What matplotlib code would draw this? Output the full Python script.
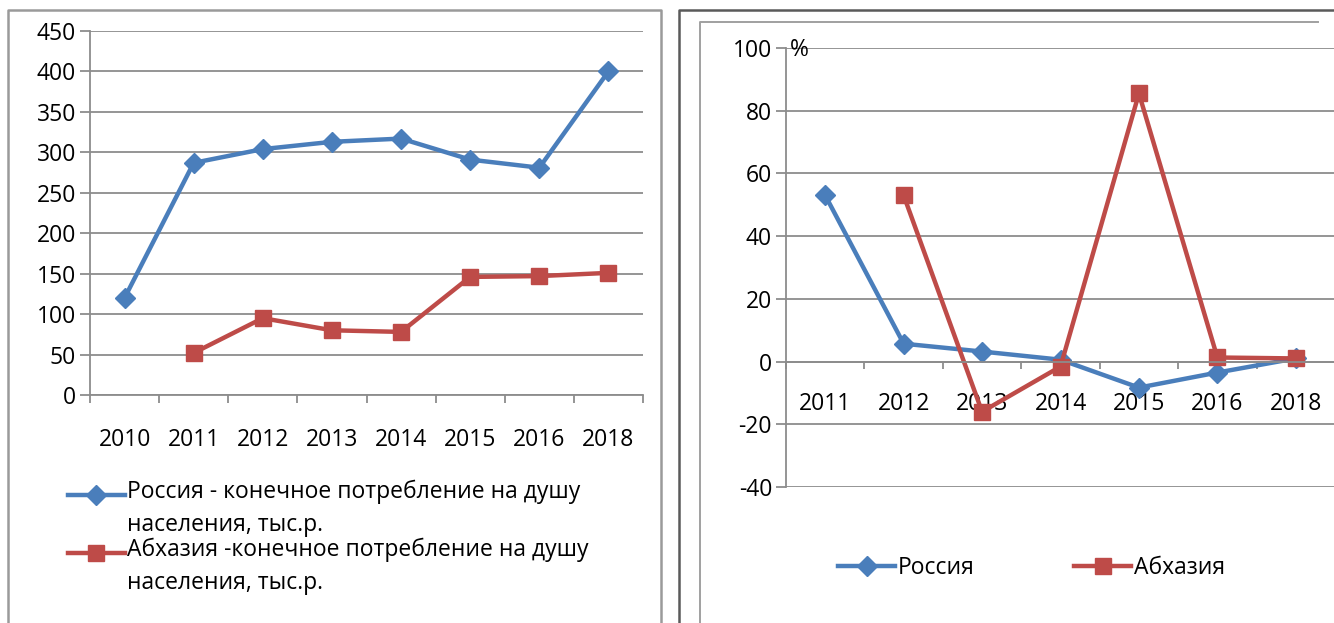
import numpy as np
import matplotlib
matplotlib.use('Agg')
import matplotlib.pyplot as plt
from matplotlib.lines import Line2D

plt.rcParams['font.family'] = ['Open Sans', 'DejaVu Sans']
plt.rcParams['axes.unicode_minus'] = False

# left chart: final consumption per capita, thousand roubles
YEARS_L = ['2010', '2011', '2012', '2013', '2014', '2015', '2016', '2018']
RU_L = [120, 287, 304, 313, 317, 291, 281, 400]
AB_L = [np.nan, 52, 95, 80, 78, 146, 147, 151]
NAMES_L = ['Россия - конечное потребление на душу\nнаселения, тыс.р.',
           'Абхазия -конечное потребление на душу\nнаселения, тыс.р.']

# right chart: growth, %
YEARS_R = ['2011', '2012', '2013', '2014', '2015', '2016', '2018']
RU_R = [53, 5.7, 3.2, 0.6, -8.3, -3.5, 1]
AB_R = [np.nan, 53, -16, -1.6, 85.5, 1.3, 1]
NAMES_R = ['Россия', 'Абхазия']

BLUE = '#4a7ebb'
RED = '#be4b48'
GRID = '#8c8c8c'
FS = 16.5
W, H = 1334, 623

fig = plt.figure(figsize=(W / 100, H / 100), dpi=100)


def fx(px):
    return px / W


def fy(py):
    return 1 - py / H


def frame(x0, y0, x1, color, lw=1.6, right=True):
    xs = [fx(x0), fx(x0), fx(x1)] + ([fx(x1)] if right else [])
    ys = [0, fy(y0), fy(y0)] + ([0] if right else [])
    fig.add_artist(Line2D(xs, ys, color=color, lw=lw))


# panel borders
frame(8, 10, 661, '#9a9a9a', lw=1.8)
frame(679, 10, 1334, '#5a5a5a', lw=1.8, right=False)
frame(700, 22, 1318, '#a0a0a0', lw=1.4, right=False)


def style_axes(ax, n, pad):
    for s in ['top', 'right']:
        ax.spines[s].set_visible(False)
    for s in ['left', 'bottom']:
        ax.spines[s].set_color(GRID)
        ax.spines[s].set_linewidth(1.3)
    ax.set_xlim(-0.5, n - 0.5)
    ax.set_xticks(np.arange(n))
    ax.set_xticks(np.arange(n + 1) - 0.5, minor=True)
    ax.tick_params(axis='x', which='major', length=0, pad=pad, labelsize=FS)
    ax.tick_params(axis='x', which='minor', length=6, color=GRID, width=1.3)
    ax.tick_params(axis='y', length=7, color=GRID, width=1.3, labelsize=FS, pad=3)
    ax.grid(axis='y', color=GRID, lw=1.3)
    ax.set_axisbelow(True)


# ---- left
axl = fig.add_axes([fx(90), fy(395), fx(643 - 90), (395 - 31) / H])
xl = np.arange(len(YEARS_L))
axl.plot(xl, RU_L, color=BLUE, lw=3.2, marker='D', ms=10, clip_on=False)
axl.plot(xl, AB_L, color=RED, lw=3.2, marker='s', ms=12, clip_on=False)
axl.set_ylim(0, 450)
axl.set_yticks(np.arange(0, 451, 50))
style_axes(axl, len(YEARS_L), 24)
axl.set_xticklabels(YEARS_L)

# legend of the left chart, handle aligned with the first text line
for i, (name, col, mk, ms) in enumerate(zip(NAMES_L, [BLUE, RED], ['D', 's'], [10, 12])):
    yy = 495 + i * 58
    fig.add_artist(Line2D([fx(68), fx(125)], [fy(yy), fy(yy)], color=col, lw=3.2))
    fig.add_artist(Line2D([fx(96)], [fy(yy)], color=col, marker=mk, ms=ms, lw=0))
    fig.text(fx(127), fy(yy - 15), name, fontsize=FS, va='top', ha='left',
             linespacing=1.5)

# ---- right
axr = fig.add_axes([fx(786), fy(487), fx(1335 - 786), (487 - 48) / H])
xr = np.arange(len(YEARS_R))
axr.plot(xr, RU_R, color=BLUE, lw=3.2, marker='D', ms=10, clip_on=False, label=NAMES_R[0])
axr.plot(xr, AB_R, color=RED, lw=3.2, marker='s', ms=12, clip_on=False, label=NAMES_R[1])
axr.set_ylim(-40, 100)
axr.set_yticks(np.arange(-40, 101, 20))
style_axes(axr, len(YEARS_R), 22)
axr.spines['bottom'].set_position(('data', 0))
axr.tick_params(axis='x', which='minor', length=5, direction='out')
axr.set_xticklabels(YEARS_R)
fig.text(fx(790), fy(50), '%', fontsize=FS, ha='left', va='center')
fig.legend(handles=axr.get_lines(), labels=NAMES_R, ncol=2, frameon=False,
           loc='center left', bbox_to_anchor=(fx(838), fy(568)),
           fontsize=FS, handlelength=2.5, handletextpad=0.1,
           columnspacing=4.35, borderaxespad=0, borderpad=0)

fig.savefig('out.png', dpi=100)
